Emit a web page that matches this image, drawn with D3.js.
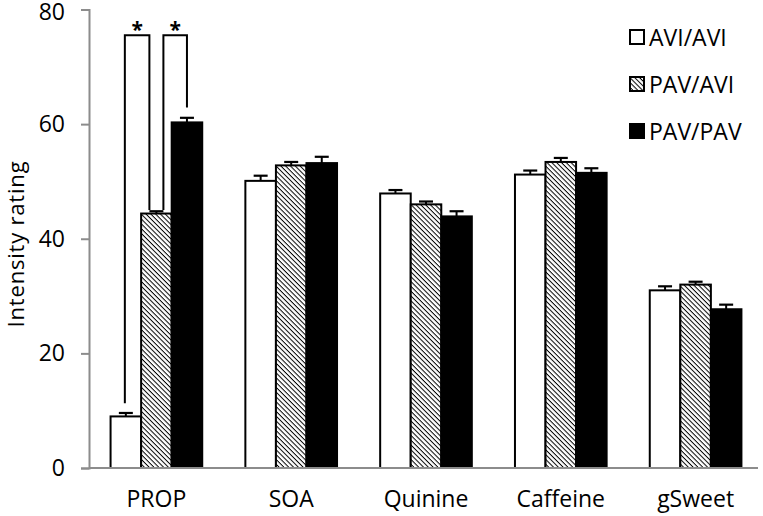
<!DOCTYPE html>
<html><head><meta charset="utf-8">
<script src="https://cdn.jsdelivr.net/npm/d3@7"></script>
<style>body{margin:0;background:#fff}svg{display:block}text{font-family:"Open Sans",sans-serif;fill:#000}</style>
</head><body>
<svg id="c" width="763" height="516"></svg>
<script>
const categories = ["PROP","SOA","Quinine","Caffeine","gSweet"];
const seriesNames = ["AVI/AVI","PAV/AVI","PAV/PAV"];
const aviAvi = [9.0, 50.1, 47.9, 51.2, 31.0];
const pavAvi = [44.4, 52.8, 46.0, 53.4, 32.0];
const pavPav = [60.3, 53.2, 43.9, 51.5, 27.7];
const aviAviErr = [0.6, 0.9, 0.6, 0.7, 0.7];
const pavAviErr = [0.4, 0.6, 0.5, 0.7, 0.5];
const pavPavErr = [0.8, 1.1, 0.9, 0.8, 0.8];
const yTicks = [0, 20, 40, 60, 80];
// significance brackets: [fromSeries, toSeries, legFromValue, legToValue, topValue]
const sigBrackets = [[0, 1, 11.3, 45.0, 75.5], [1, 2, 45.0, 62.9, 75.5]];

const means = [aviAvi, pavAvi, pavPav];
const errs = [aviAviErr, pavAviErr, pavPavErr];
const fills = ["#fff", "url(#hatch)", "#000"];

const svg = d3.select("#c");
const defs = svg.append("defs");
const pat = defs.append("pattern").attr("id","hatch").attr("patternUnits","userSpaceOnUse")
  .attr("width",3.4).attr("height",3.4).attr("patternTransform","rotate(45)");
pat.append("rect").attr("width",3.4).attr("height",3.4).attr("fill","#fff");
pat.append("line").attr("x1",0).attr("y1",0).attr("x2",3.4).attr("y2",0)
  .attr("stroke","#000").attr("stroke-width",2.0);

const x0 = d3.scaleBand().domain(categories).range([89, 763]).paddingInner(0.32).paddingOuter(0.16);
const x1 = d3.scaleBand().domain(d3.range(3)).range([0, x0.bandwidth()]);
const y = d3.scaleLinear().domain([0, 80]).range([468, 9.5]);

// y axis
const ya = svg.append("g").attr("transform","translate(89,0)")
  .call(d3.axisLeft(y).tickValues(yTicks).tickSize(8).tickPadding(16));
ya.select(".domain").attr("stroke","#8c8c8c").attr("stroke-width",2);
ya.selectAll(".tick line").attr("stroke","#8c8c8c").attr("stroke-width",2);
ya.selectAll(".tick text").attr("font-size",23).attr("font-family","Open Sans")
  .attr("dy", (d) => d === 80 ? "0.45em" : "0.32em");

// bars
categories.forEach((c, ci) => {
  const g = svg.append("g").attr("transform",`translate(${x0(c)},0)`);
  d3.range(3).forEach(si => {
    const v = means[si][ci], e = errs[si][ci];
    const bx = x1(si), bw = x1.bandwidth();
    const cx = bx + bw/2;
    g.append("line").attr("x1",cx).attr("x2",cx).attr("y1",y(v)).attr("y2",y(v+e))
      .attr("stroke","#000").attr("stroke-width",2);
    g.append("line").attr("x1",cx-7).attr("x2",cx+7).attr("y1",y(v+e)).attr("y2",y(v+e))
      .attr("stroke","#000").attr("stroke-width",2.2);
    g.append("rect").attr("x",bx).attr("y",y(v)).attr("width",bw).attr("height",y(0)-y(v))
      .attr("fill",fills[si]).attr("stroke","#000").attr("stroke-width",2);
  });
});

// x axis
const xa = svg.append("g").attr("transform","translate(0,468)")
  .call(d3.axisBottom(x0).tickSize(0).tickPadding(23));
xa.select(".domain").attr("stroke","#8c8c8c").attr("stroke-width",2).attr("d","M89,0H758");
xa.selectAll(".tick text").attr("font-size",23).attr("font-family","Open Sans");

// significance brackets
sigBrackets.forEach(([a, b, va, vb, top]) => {
  const bw = x1.bandwidth();
  const xa_ = x0(categories[0]) + x1(a) + bw/2 + (a === 1 ? 7 : -1);
  const xb_ = x0(categories[0]) + x1(b) + bw/2 + (b === 1 ? -7 : 0);
  svg.append("path").attr("d",`M${xa_},${y(va)}V${y(top)}H${xb_}V${y(vb)}`)
    .attr("fill","none").attr("stroke","#000").attr("stroke-width",2);
  svg.append("text").attr("x",(xa_+xb_)/2).attr("y",y(top)+2).attr("text-anchor","middle")
    .attr("font-size",21).attr("font-weight","bold").text("*");
});

// y label
svg.append("text").attr("transform","translate(24,244) rotate(-90)").attr("text-anchor","middle")
  .attr("font-size",22).attr("letter-spacing",0.8).text("Intensity rating");

// legend
const lg = svg.append("g").attr("transform","translate(629,29)");
seriesNames.forEach((n, i) => {
  const row = lg.append("g").attr("transform",`translate(0,${i*47})`);
  row.append("rect").attr("x",1).attr("y",1).attr("width",14).attr("height",14)
    .attr("fill",fills[i]).attr("stroke","#000").attr("stroke-width",2);
  row.append("text").attr("x",20).attr("y",16.5).attr("font-size",23).text(n);
});
</script>
</body></html>
